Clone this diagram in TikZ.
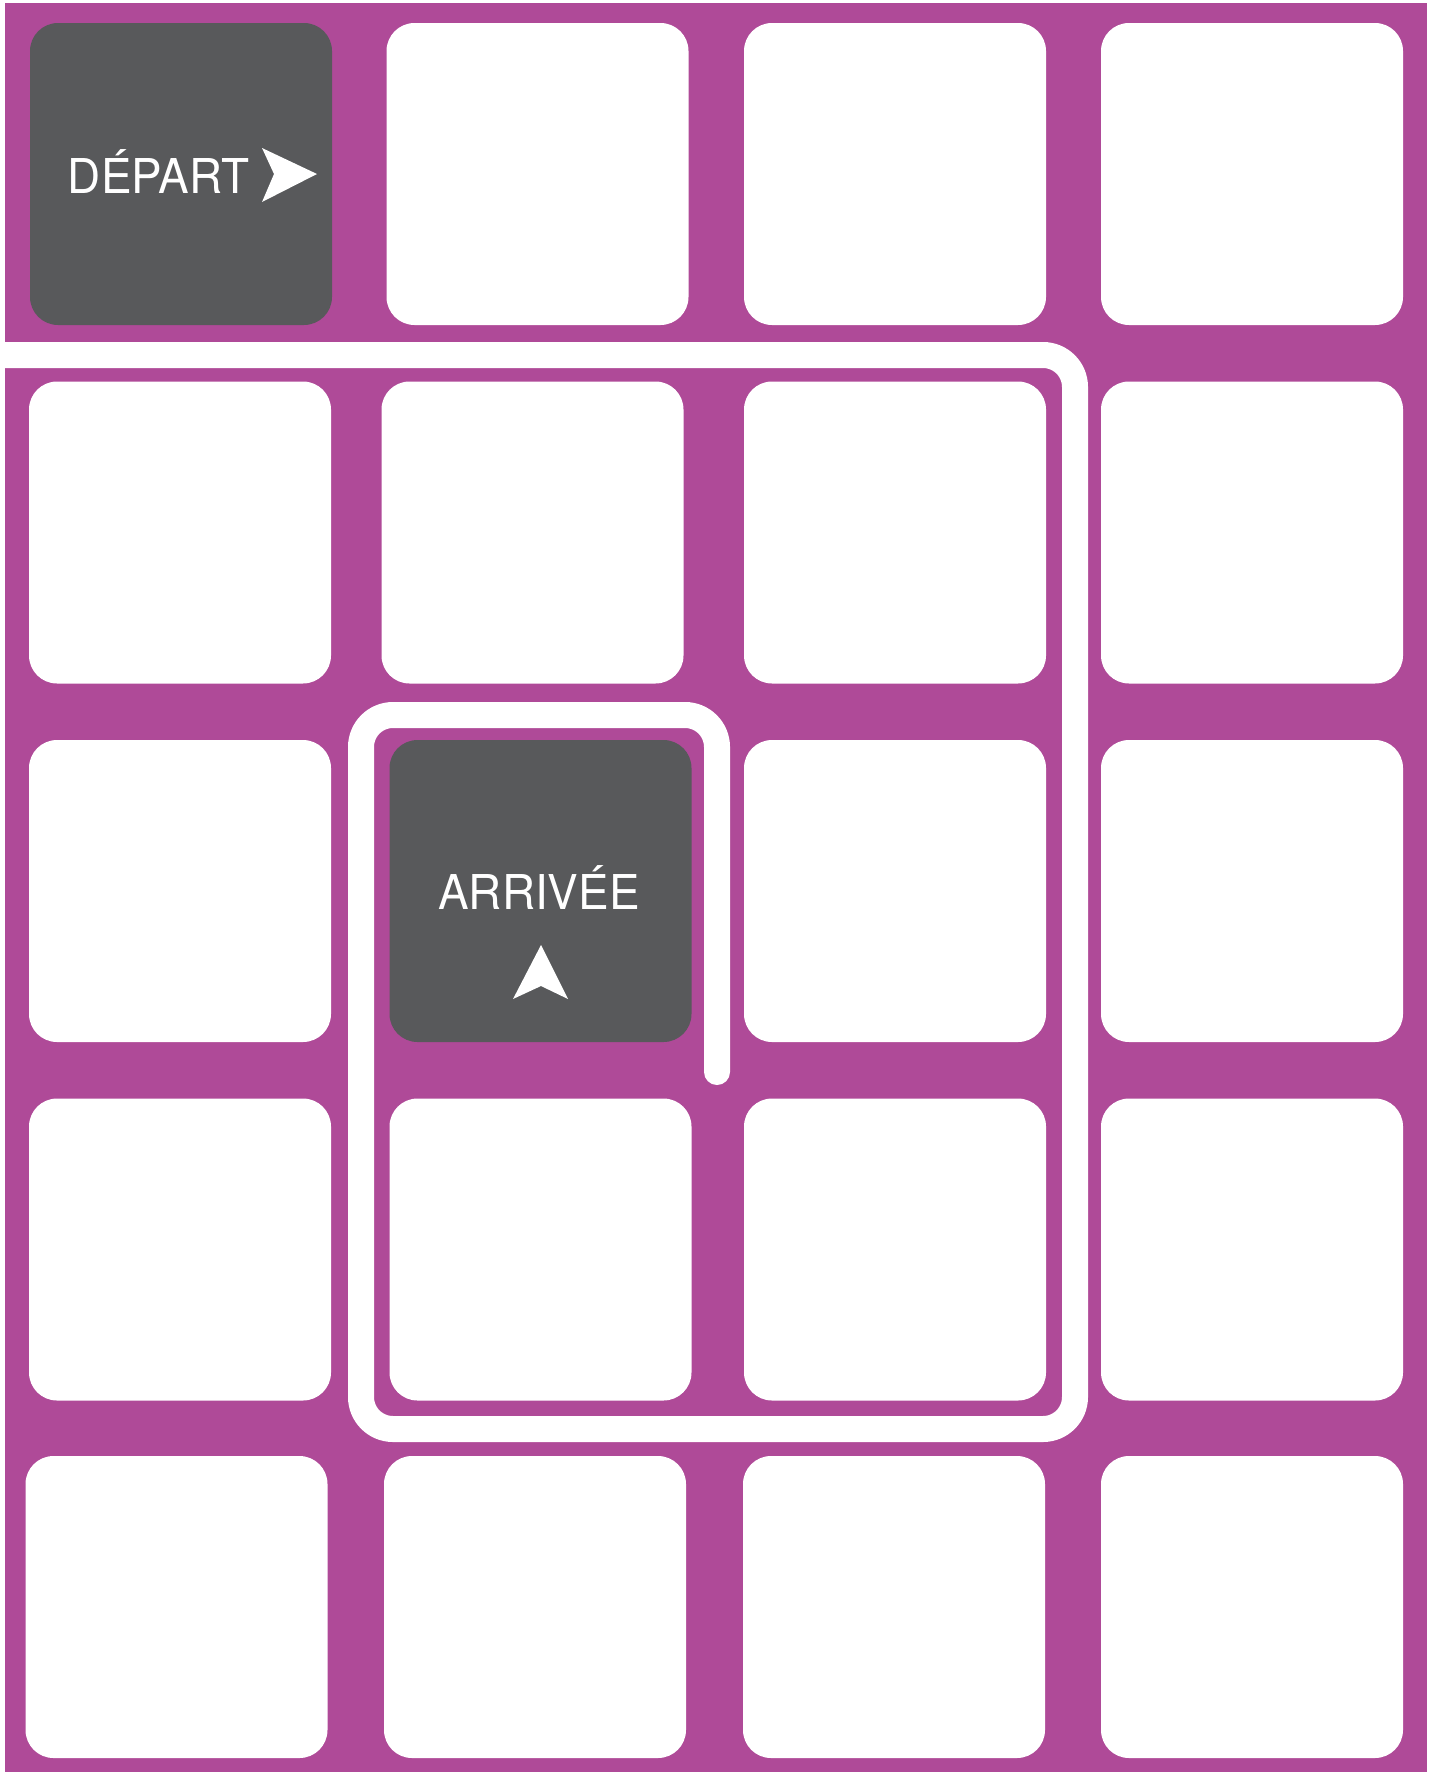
\documentclass[tikz,border=0pt]{standalone}
\usepackage{fontspec}
\setmainfont{TeX Gyre Heros}[FakeStretch=0.955]
\usepackage{tikz}
\usetikzlibrary{positioning}
\definecolor{boardpurple}{RGB}{175,74,152}
\definecolor{tilegray}{RGB}{88,89,91}

\begin{document}
\begin{tikzpicture}[
    x=0.5pt, y=-0.5pt,
    cell/.style={fill=white, rounded corners=14pt, minimum width=151pt, minimum height=151pt, inner sep=0pt},
    endcell/.style={cell, fill=tilegray},
    label/.style={text=white, anchor=base, inner sep=0pt, font=\fontsize{24pt}{28pt}\selectfont},
    road/.style={draw=white, line width=13pt, rounded corners=16pt, line cap=round}
]
\useasboundingbox (0,0) rectangle (1437,1772);
\fill[boardpurple] (5,3) rectangle (1427,1772);

% row 1
\node[endcell] (c11) at (181,174)    {};
\node[cell]    (c12) at (537.5,174)  {};
\node[cell]    (c13) at (895,174)    {};
\node[cell]    (c14) at (1252,174)   {};
% row 2
\node[cell]    (c21) at (180,532.5)  {};
\node[cell]    (c22) at (532.5,532.5) {};
\node[cell]    (c23) at (895,532.5)  {};
\node[cell]    (c24) at (1252,532.5) {};
% row 3
\node[cell]    (c31) at (180,891)    {};
\node[endcell] (c32) at (540.5,891)  {};
\node[cell]    (c33) at (895,891)    {};
\node[cell]    (c34) at (1252,891)   {};
% row 4
\node[cell]    (c41) at (180,1249.5) {};
\node[cell]    (c42) at (540.5,1249.5) {};
\node[cell]    (c43) at (895,1249.5) {};
\node[cell]    (c44) at (1252,1249.5) {};
% row 5
\node[cell]    (c51) at (176.5,1607) {};
\node[cell]    (c52) at (535,1607)   {};
\node[cell]    (c53) at (894,1607)   {};
\node[cell]    (c54) at (1252,1607)  {};

% the road
\coordinate (in)  at (0,355);
\coordinate (fin) at (717,1072);
\draw[road] (in) -- (1075,355) -- (1075,1429) -- (361,1429) -- (361,715) -- (717,715) -- (fin);

% start and finish
\node[label] (dep) at (158.5,193) {DÉPART};
\fill[white] (317,174) -- (262,148) -- (274,174) -- (262,202) -- cycle;
\node[label] (arr) at (539,909) {ARRIVÉE};
\fill[white] (541,945) -- (568,999) -- (541,986) -- (513,999) -- cycle;
\end{tikzpicture}
\end{document}
